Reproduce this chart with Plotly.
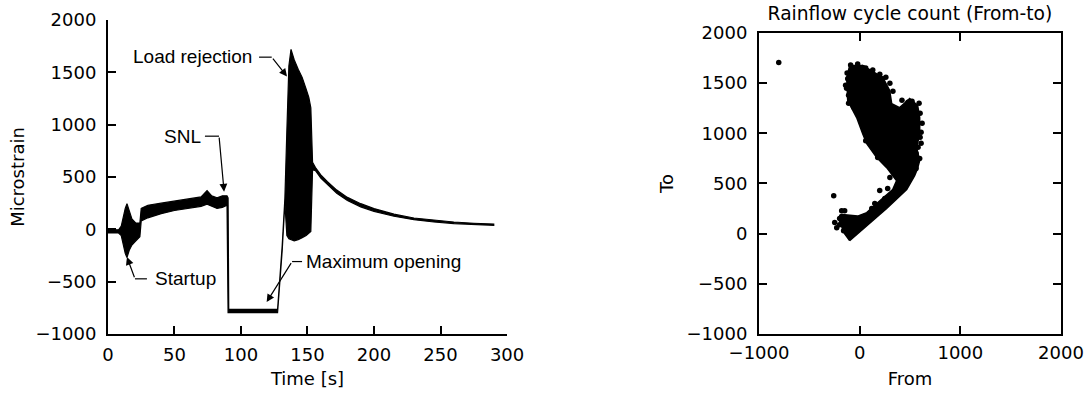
import plotly.graph_objects as go

# ---------------- Left panel: strain time series (envelope) ----------------
time_s = [0, 8, 10, 11.5, 13, 14.3, 16, 18, 21, 24, 25, 30, 40, 50, 60, 70, 74.5, 78, 82, 86,
          89.5, 90.3, 90.8, 100, 110, 120, 127.5, 131, 133, 134.5, 136, 137.6, 140, 143, 146, 149,
          151, 152.5, 153.8, 156, 160, 165, 172, 180, 190, 200, 215, 230, 245, 260, 275, 290]
strain_upper = [-5, -5, 30, 120, 200, 245, 170, 100, 60, 60, 200, 230, 250, 270, 285, 310, 370, 320, 300, 320,
                320, 300, -765, -765, -765, -765, -765, -150, 300, 950, 1560, 1720, 1620, 1530, 1450, 1340,
                1260, 1160, 640, 590, 520, 455, 375, 305, 245, 198, 145, 108, 86, 70, 58, 50]
strain_lower = [-35, -35, -60, -150, -230, -270, -200, -150, -110, -70, 80, 110, 150, 180, 200, 220, 240, 220, 200, 210,
                230, -795, -795, -795, -795, -795, -795, -200, 250, -60, -90, -100, -110, -100, -80, -60,
                -40, -20, 570, 560, 490, 425, 345, 275, 215, 172, 125, 92, 70, 55, 45, 38]

# annotation label positions and arrow paths (data units)
ann_text = ["Load rejection", "SNL", "Startup", "Maximum opening"]
ann_text_t = [110.0, 71.5, 33.5, 147.5]
ann_text_v = [1655, 890, -473, -308]
ann_text_anchor = ["right", "right", "left", "left"]
ann_line_start_t = [113.6, 72.9, 29.3, 145.9]
ann_corner_t = [123.1, 83.5, 20.3, 138.4]
ann_corner_v = [1645, 890, -473, -308]
ann_tip_t = [134.6, 87.3, 14.3, 119.3]
ann_tip_v = [1460, 360, -265, -695]

# ---------------- Right panel: rainflow from-to ----------------
# outline of the dense cloud of points
cloud_from = [-100, 70, 268, 467, 546, 575, 596, 566, 596, 596, 576, 497, 397, 318, 298, 230, 30, -99,
              -129, -119, -30, 30, 70, 169, 268, 367, 328, 169, 70, -20, -169, -200, -150, -100]
cloud_to = [-70, 80, 250, 440, 578, 650, 728, 858, 997, 1157, 1276, 1346, 1256, 1296, 1426, 1555, 1675, 1675,
            1555, 1326, 1157, 997, 897, 758, 658, 528, 440, 300, 210, 175, 190, 120, 0, -70]
# individual visible points
pts_from = [-804, -258, 199, 278, -248, -228, -199, -179, -149, 179, 60, 229, 30, -119, 596, 520, 545, 590,
            610, 580, 470, 380, 250, 120, -60, -140, -40, 40, 330, 450, 560, 600, 300, 150,
            -90, -20, 60, 130, 200, 260, 300, 330, 420, 480, 540, 600, 620, 610, 560, 500, 470, 430,
            380, 360, 320, 300, 280, 240, 180, 120, 60, -10, -110, -130, -125, -110, -60, 20, 100, 160,
            240, 340, 410, 500, -180, -200, -160, -120, -90, 10, 120, 250]
pts_to = [1705, 379, 429, 449, 110, 60, 150, 229, 229, 758, 927, 1545, 1655, 1545, 748, 1320, 1240, 1300,
          1010, 860, 1250, 1190, 1420, 1600, 1640, 1480, 1250, 1050, 820, 700, 650, 960, 560, 300,
          1680, 1690, 1650, 1630, 1590, 1560, 1500, 1420, 1330, 1310, 1280, 1200, 1100, 900, 800, 700, 620, 560,
          600, 660, 700, 760, 830, 880, 960, 1050, 1120, 1200, 1380, 1450, 1600, 1300, 1260, 1240, 1180, 1090,
          1000, 900, 860, 1160, 170, 90, 30, 10, -20, 150, 250, 350]

fig = go.Figure()

fig.add_trace(go.Scatter(
    x=time_s + time_s[::-1], y=strain_upper + strain_lower[::-1],
    mode="lines", fill="toself", fillcolor="black",
    line=dict(color="black", width=1.2), xaxis="x", yaxis="y", hoverinfo="skip", showlegend=False))

fig.add_trace(go.Scatter(
    x=cloud_from, y=cloud_to, mode="lines", fill="toself", fillcolor="black",
    line=dict(color="black", width=1.5), xaxis="x2", yaxis="y2", hoverinfo="skip", showlegend=False))
fig.add_trace(go.Scatter(
    x=pts_from, y=pts_to, mode="markers", marker=dict(color="black", size=5.5),
    xaxis="x2", yaxis="y2", showlegend=False))

annotations = []
shapes = []
for i in range(len(ann_text)):
    annotations.append(dict(
        x=ann_text_t[i], y=ann_text_v[i], xref="x", yref="y", text=ann_text[i], showarrow=False,
        xanchor=ann_text_anchor[i], yanchor="middle",
        font=dict(family="Liberation Sans", size=19, color="black")))
    shapes.append(dict(type="line", xref="x", yref="y",
                       x0=ann_line_start_t[i], y0=ann_corner_v[i], x1=ann_corner_t[i], y1=ann_corner_v[i],
                       line=dict(color="black", width=1.2)))
    annotations.append(dict(
        x=ann_tip_t[i], y=ann_tip_v[i], xref="x", yref="y", text="", showarrow=True,
        ax=ann_corner_t[i], ay=ann_corner_v[i], axref="x", ayref="y",
        arrowhead=2, arrowsize=1.3, arrowwidth=1.2, arrowcolor="black", standoff=0, startstandoff=0))

title_font = dict(family="DejaVu Sans", size=18, color="black")
axis_common = dict(showline=True, linewidth=2, linecolor="black", ticks="inside", ticklen=8,
                   tickwidth=1.5, tickcolor="black", showgrid=False, zeroline=False,
                   tickfont=dict(family="DejaVu Sans", size=18, color="black"),
                   automargin=False)

fig.update_layout(
    width=1086, height=396, margin=dict(l=0, r=0, t=0, b=0),
    paper_bgcolor="white", plot_bgcolor="white",
    font=dict(family="DejaVu Sans", size=18, color="black"),
    xaxis=dict(domain=[0.0994, 0.4669], range=[0, 300], dtick=50, anchor="y",
               title=dict(text="Time [s]", standoff=9, font=title_font), ticklabelstandoff=3, **axis_common),
    yaxis=dict(domain=[0.1566, 0.9495], range=[-1000, 2000], dtick=500, anchor="x",
               title=dict(text="Microstrain", standoff=6, font=title_font), ticklabelstandoff=6, **axis_common),
    xaxis2=dict(domain=[0.6989, 0.9770], range=[-1000, 2000], dtick=1000, anchor="y2", mirror="ticks",
                title=dict(text="From", standoff=11, font=title_font), ticklabelstandoff=1, **axis_common),
    yaxis2=dict(domain=[0.1566, 0.9167], range=[-1000, 2000], dtick=500, anchor="x2", mirror="ticks",
                title=dict(text="To", standoff=8, font=title_font), ticklabelstandoff=6, **axis_common),
    title=dict(text="Rainflow cycle count (From-to)", x=0.8379, y=0.967, xanchor="center", yanchor="middle",
               font=dict(family="DejaVu Sans", size=18.7, color="black")),
    annotations=annotations, shapes=shapes,
)

fig.write_html("out.html", config={"displayModeBar": False},
               post_script="document.body.style.margin='0px';document.body.style.overflow='hidden';")
